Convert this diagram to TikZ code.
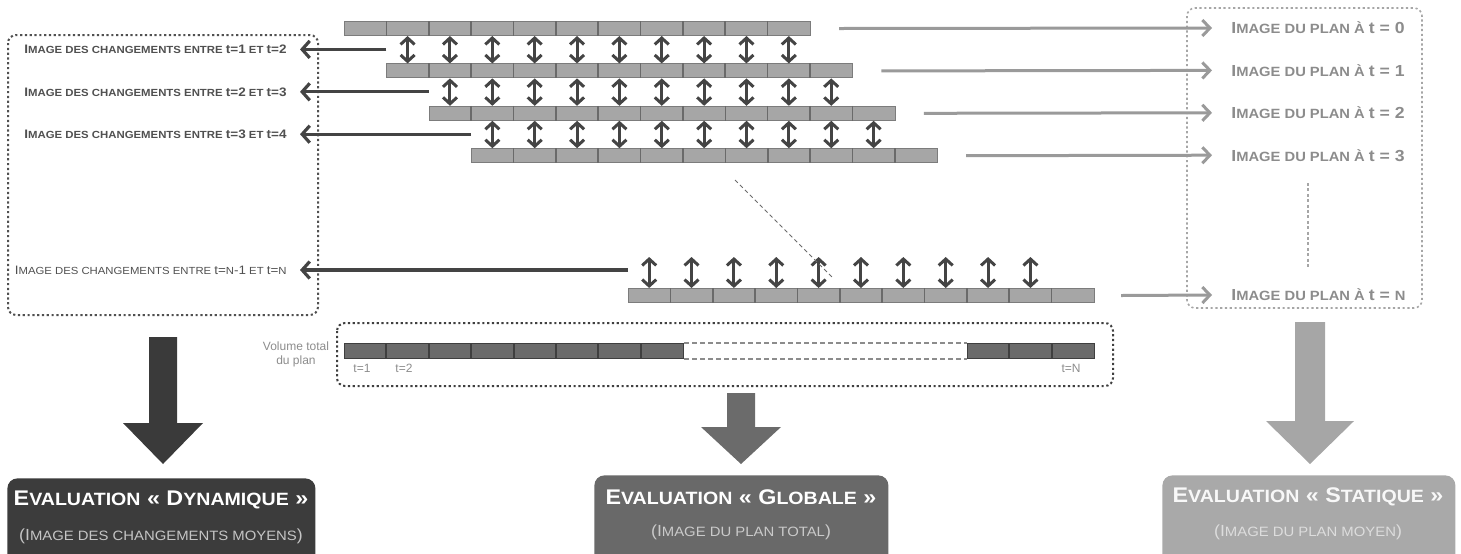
\documentclass[tikz,border=0pt]{standalone}
\usepackage{fontspec}
\setmainfont{Liberation Sans}
\newfontfamily\wide[FakeStretch=1.1]{Liberation Sans}
\usetikzlibrary{arrows.meta}
\definecolor{barfill}{HTML}{A6A6A6}
\definecolor{barline}{HTML}{7C7C7C}
\definecolor{sepcol}{HTML}{6A6A6A}
\definecolor{darkarr}{HTML}{444444}
\definecolor{ltext}{HTML}{505050}
\definecolor{rtext}{HTML}{8C8C8C}
\definecolor{rarrc}{HTML}{9A9A9A}
\definecolor{volfill}{HTML}{6B6B6B}
\definecolor{volline}{HTML}{3F3F3F}
\definecolor{eb1}{HTML}{3C3C3C}
\definecolor{eb2}{HTML}{696969}
\definecolor{eb3}{HTML}{A9A9A9}
\definecolor{ba1}{HTML}{3A3A3A}
\definecolor{ba2}{HTML}{6B6B6B}
\definecolor{ba3}{HTML}{A6A6A6}
\newcommand\sk[1]{{\fontsize{\smsz}{\smsz}\selectfont #1}}
\begin{document}
\begin{tikzpicture}[x=0.5pt,y=-0.5pt,
  bar/.style={anchor=north west, minimum width=233pt, minimum height=7pt, inner sep=0pt, fill=barfill, draw=barline, line width=0.5pt},
  sepline/.style={draw=sepcol, line width=0.8pt},
  dbl/.style={draw=darkarr, line width=1.5pt, {Straight Barb[length=3.2pt,width=7pt]}-{Straight Barb[length=3.2pt,width=7pt]}},
  larr/.style={draw=darkarr, line width=1.6pt, -{Straight Barb[length=3.8pt,width=8.5pt]}},
  rarr/.style={draw=rarrc, line width=1.5pt, -{Straight Barb[length=3.8pt,width=8pt]}},
  llab/.style={anchor=east, inner xsep=6.5pt, inner ysep=0pt, text=ltext, font=\wide\bfseries\fontsize{6.15}{7}\selectfont\def\smsz{5.17}},
  rlab/.style={anchor=west, inner xsep=9.5pt, inner ysep=0pt, text=rtext, font=\wide\bfseries\fontsize{8}{9}\selectfont\def\smsz{6.7}},
  dotbox/.style={line width=1pt, dash pattern=on 1.1pt off 1.3pt, rounded corners=4pt},
  volbar/.style={anchor=north west, minimum height=7.5pt, inner sep=0pt, fill=volfill, draw=volline, line width=0.5pt},
  small/.style={text=rtext, inner sep=0pt, font=\fontsize{6}{7}\selectfont},
  ebox/.style={anchor=north west, rounded corners=5pt, minimum height=45pt, inner sep=0pt},
  etitle/.style={text=white, inner sep=0pt, font=\wide\bfseries\fontsize{10.6}{12}\selectfont\def\smsz{8.9}},
  esub/.style={inner sep=0pt, font=\wide\fontsize{8.05}{9}\selectfont\def\smsz{6.76}}
]
\clip (0,0) rectangle (1461,553);

% dotted frames
\draw[dotbox, draw=ltext] (8,35) rectangle (318,315);
\draw[dotbox, draw=barfill, line width=0.8pt] (1187,8) rectangle (1422,308);
\draw[dotbox, draw=volline] (337,323) rectangle (1113,386);

% rows of the plan
\node[bar] (r0) at (344,21) {};
\node[bar] (r1) at (386.4,63.4) {};
\node[bar] (r2) at (428.8,105.8) {};
\node[bar] (r3) at (471.2,148.2) {};
\node[bar] (rN) at (628,288) {};
\foreach \r in {r0,r1,r2,r3,rN}
  \foreach \j in {1,...,10}
    \draw[sepline] ([xshift=\j*21.18pt]\r.north west) -- ([xshift=\j*21.18pt]\r.south west);

% change arrows between successive rows
\foreach \a/\b in {r0/r1,r1/r2,r2/r3}
  \foreach \j in {0,...,9} {
    \path ([xshift=10.59pt+\j*21.18pt]\b.north west) coordinate (q);
    \draw[dbl] (q |- \a.south) -- (q);
  }
\foreach \j in {0,...,9} {
  \path ([xshift=10.59pt+\j*21.18pt]rN.north west) coordinate (q);
  \draw[dbl] ([yshift=15.5pt]q) -- (q);
}

% zoom line
\draw[draw=sepcol, line width=0.5pt, dash pattern=on 2pt off 1.5pt] (735,180) -- (833,278);

% left labels
\node[llab] (L1) at (300,49.4) {I\sk{MAGE DES CHANGEMENTS ENTRE }t=1\sk{ ET }t=2};
\node[llab] (L2) at (300,91.8) {I\sk{MAGE DES CHANGEMENTS ENTRE }t=2\sk{ ET }t=3};
\node[llab] (L3) at (300,134.2) {I\sk{MAGE DES CHANGEMENTS ENTRE }t=3\sk{ ET }t=4};
\node[llab, font=\wide\fontsize{6.1}{7}\selectfont\def\smsz{5.15}] (LN) at (300,270) {I\sk{MAGE DES CHANGEMENTS ENTRE }t=\sk{N}-1\sk{ ET }t=\sk{N}};
\draw[larr] ([yshift=7pt]r1.north west) -- (L1.east);
\draw[larr] ([yshift=7pt]r2.north west) -- (L2.east);
\draw[larr] ([yshift=7pt]r3.north west) -- (L3.east);
\draw[larr] ([yshift=9pt]rN.north west) -- (LN.east);

% right labels
\node[rlab] (P0) at (1212,28) {I\sk{MAGE DU PLAN À }t = 0};
\node[rlab] (P1) at (1212,70.4) {I\sk{MAGE DU PLAN À }t = 1};
\node[rlab] (P2) at (1212,112.8) {I\sk{MAGE DU PLAN À }t = 2};
\node[rlab] (P3) at (1212,155.2) {I\sk{MAGE DU PLAN À }t = 3};
\node[rlab] (PN) at (1212,295) {I\sk{MAGE DU PLAN À }t = \sk{N}};
\draw[rarr] ([xshift=14pt]r0.east) -- (P0.west);
\draw[rarr] ([xshift=14pt]r1.east) -- (P1.west);
\draw[rarr] ([xshift=14pt]r2.east) -- (P2.west);
\draw[rarr] ([xshift=14pt]r3.east) -- (P3.west);
\draw[rarr] ([xshift=13pt]rN.east) -- (PN.west);
\draw[draw=barfill, line width=0.8pt, dash pattern=on 1.5pt off 1.2pt] (1308,183) -- (1308,267);

% total volume bar
\node[volbar, minimum width=169.5pt] (vA) at (344,343) {};
\node[volbar, minimum width=63.5pt] (vB) at (967,343) {};
\foreach \j in {1,...,7}
  \draw[draw=volline, line width=1pt] ([xshift=\j*21.19pt]vA.north west) -- ([xshift=\j*21.19pt]vA.south west);
\foreach \j in {1,2}
  \draw[draw=volline, line width=1pt] ([xshift=\j*21.17pt]vB.north west) -- ([xshift=\j*21.17pt]vB.south west);
\draw[draw=rtext, line width=0.6pt, dash pattern=on 2.5pt off 1.5pt] (vA.north east) -- (vB.north west);
\draw[draw=rtext, line width=0.6pt, dash pattern=on 2.5pt off 1.5pt] (vA.south east) -- (vB.south west);
\node[small, align=center] (vt) at (296,354) {Volume total\\du plan};
\node[small] (t1) at (362,368) {t=1};
\node[small] (t2) at (404,368) {t=2};
\node[small] (tN) at (1071,368) {t=N};

% big arrows
\fill[ba1] (149,337) -- (177,337) -- (177,423) -- (203,423) -- (163,464) -- (123,423) -- (149,423) -- cycle;
\fill[ba2] (727,393) -- (755,393) -- (755,427) -- (781,427) -- (741,464) -- (701,427) -- (727,427) -- cycle;
\fill[ba3] (1295,322) -- (1325,322) -- (1325,421) -- (1354,421) -- (1310,464) -- (1266,421) -- (1295,421) -- cycle;

% evaluation boxes
\node[ebox, fill=eb1, minimum width=154pt] (E1) at (7,478) {};
\node[etitle] (T1) at (161,500) {E\sk{VALUATION} « D\sk{YNAMIQUE} »};
\node[esub, text=white!70!eb1] (S1) at (161,536) {(I\sk{MAGE DES CHANGEMENTS MOYENS})};
\node[ebox, fill=eb2, minimum width=147pt] (E2) at (594,475) {};
\node[etitle] (T2) at (741,497) {E\sk{VALUATION} « G\sk{LOBALE} »};
\node[esub, text=white!65!eb2] (S2) at (741,532) {(I\sk{MAGE DU PLAN TOTAL})};
\node[ebox, fill=eb3, minimum width=146.5pt] (E3) at (1162,475) {};
\node[etitle, text=white!92!eb3] (T3) at (1308,497) {E\sk{VALUATION} « S\sk{TATIQUE} »};
\node[esub, text=white!60!eb3] (S3) at (1308,532) {(I\sk{MAGE DU PLAN MOYEN})};
\end{tikzpicture}
\end{document}
